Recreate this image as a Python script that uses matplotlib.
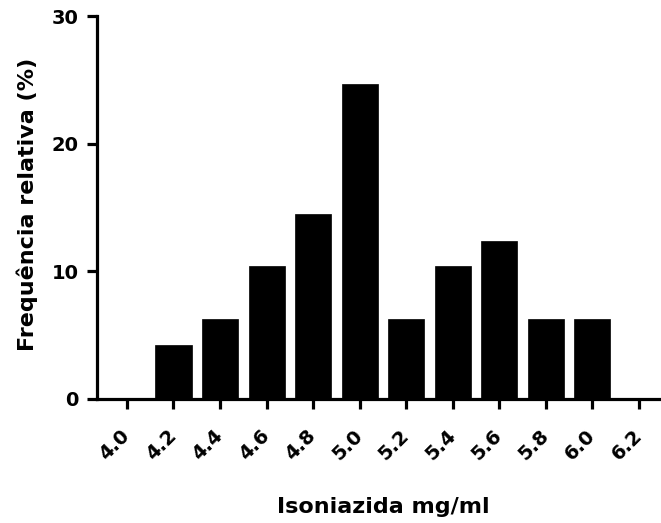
import matplotlib
matplotlib.use("Agg")
import matplotlib.pyplot as plt

# data
concentrations = [4.0, 4.2, 4.4, 4.6, 4.8, 5.0, 5.2, 5.4, 5.6, 5.8, 6.0, 6.2]
frequencies = [0.0, 4.2, 6.25, 10.4, 14.5, 24.7, 6.25, 10.4, 12.4, 6.25, 6.25, 0.0]
tick_labels = ["4.0", "4.2", "4.4", "4.6", "4.8", "5.0", "5.2", "5.4", "5.6", "5.8", "6.0", "6.2"]
y_ticks = [0, 10, 20, 30]
x_label = "Isoniazida mg/ml"
y_label = "Frequência relativa (%)"

plt.rcParams['font.family'] = ['DejaVu Sans']
plt.rcParams['font.weight'] = 'bold'

W, H = 661, 523
fig = plt.figure(figsize=(W / 100, H / 100), dpi=100)
ax = fig.add_axes([96.7 / W, 1 - 399 / H, 564.3 / W, 383 / H])

ax.bar(concentrations, frequencies, width=0.155, color='black',
       edgecolor='black', linewidth=0.5, zorder=2)

ax.set_xlim(3.870, 6.295)
ax.set_ylim(0, 30)
ax.set_xticks(concentrations)
ax.set_xticklabels(tick_labels, rotation=45, ha='right', va='center',
                   rotation_mode='anchor', fontsize=14, fontweight='bold')
ax.set_yticks(y_ticks)
ax.set_yticklabels([str(v) for v in y_ticks], fontsize=14, fontweight='bold')

for side in ['top', 'right']:
    ax.spines[side].set_visible(False)
for side in ['left', 'bottom']:
    ax.spines[side].set_linewidth(2.3)
    ax.spines[side].set_capstyle('projecting')

ax.tick_params(axis='both', direction='out', length=7.5, width=2.3, color='black')
ax.tick_params(axis='y', pad=5.5)
ax.tick_params(axis='x', pad=17)

ax.set_xlabel(x_label, fontsize=16, fontweight='bold')
ax.xaxis.set_label_coords((383.5 - 96.7) / 564.3, (399 - 507) / 383)
ax.xaxis.label.set_va('center')

ax.set_ylabel(y_label, fontsize=16, fontweight='bold')
ax.yaxis.set_label_coords((27 - 96.7) / 564.3, (399 - 204) / 383)
ax.yaxis.label.set_va('center')
ax.yaxis.label.set_rotation_mode('anchor')

fig.savefig("out.png", dpi=100)
